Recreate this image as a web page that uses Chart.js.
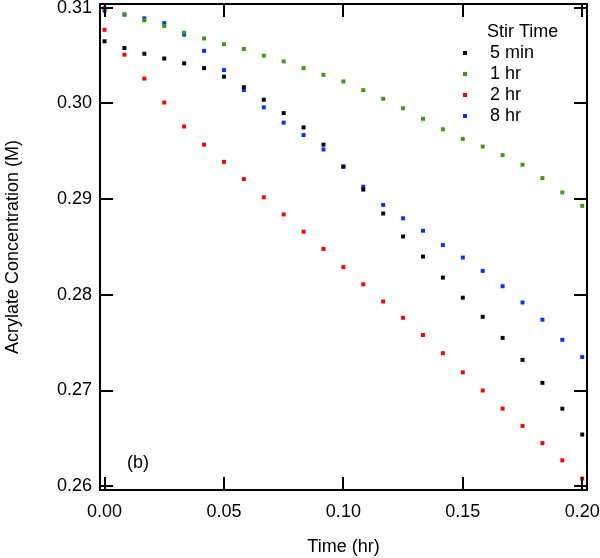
<!DOCTYPE html>
<html lang="en">
  <head>
    <meta charset="UTF-8" />
    <title>Acrylate Concentration vs Time</title>
    <style>
      html, body {
        margin: 0;
        padding: 0;
        background: #fff;
      }
      #wrap {
        width: 600px;
        height: 558px;
      }
    </style>
  </head>
  <body>
    <div id="wrap"><canvas id="chart" width="600" height="558"></canvas></div>

    <script src="https://cdn.jsdelivr.net/npm/chart.js@4.4.1/dist/chart.umd.min.js"></script>
    <script>
      // time points, hr (every 30 s)
      const timeHr = [
        0.0, 0.00833, 0.01667, 0.025, 0.03333, 0.04167, 0.05, 0.05833, 0.06667,
        0.075, 0.08333, 0.09167, 0.1, 0.10833, 0.11667, 0.125, 0.13333, 0.14167,
        0.15, 0.15833, 0.16667, 0.175, 0.18333, 0.19167, 0.2
      ];

      // acrylate concentration (M) for each stir time
      const conc5min = [
        0.3065, 0.3058, 0.3052, 0.3047, 0.3042, 0.3037, 0.3028, 0.3017, 0.3004,
        0.299, 0.2975, 0.2957, 0.2934, 0.291, 0.2885, 0.2861, 0.284, 0.2818,
        0.2797, 0.2777, 0.2755, 0.2732, 0.2708, 0.2681, 0.2654
      ];
      const conc1hr = [
        0.31, 0.3093, 0.3087, 0.3081, 0.3074, 0.3068, 0.3062, 0.3057, 0.305,
        0.3044, 0.3037, 0.303, 0.3023, 0.3014, 0.3005, 0.2995, 0.2984, 0.2973,
        0.2963, 0.2955, 0.2946, 0.2936, 0.2922, 0.2907, 0.2893
      ];
      const conc2hr = [
        0.3077, 0.3051, 0.3026, 0.3001, 0.2976, 0.2957, 0.2939, 0.2921, 0.2902,
        0.2884, 0.2866, 0.2848, 0.2829, 0.2811, 0.2793, 0.2776, 0.2758, 0.2739,
        0.2719, 0.27, 0.2681, 0.2663, 0.2645, 0.2627, 0.2608
      ];
      const conc8hr = [
        0.3097, 0.3093, 0.3089, 0.3084, 0.3072, 0.3055, 0.3035, 0.3014, 0.2996,
        0.298, 0.2967, 0.2952, 0.2934, 0.2913, 0.2894, 0.288, 0.2867, 0.2852,
        0.2839, 0.2825, 0.2809, 0.2792, 0.2774, 0.2753, 0.2735
      ];

      const seriesLabels = ['5 min', '1 hr', '2 hr', '8 hr'];
      const seriesColors = ['#000000', '#3a9a10', '#ff0000', '#0033ff'];
      const xTicks = [0.0, 0.05, 0.1, 0.15, 0.2];
      const yTicks = [0.26, 0.27, 0.28, 0.29, 0.3, 0.31];

      const FONT = 'Liberation Sans, Arial, sans-serif';

      function toPoints(ys) {
        return timeHr.map((t, i) => ({ x: t, y: ys[i] }));
      }

      const allSeries = [conc5min, conc1hr, conc2hr, conc8hr];
      const datasets = allSeries.map((ys, i) => ({
        label: seriesLabels[i],
        data: toPoints(ys),
        pointStyle: 'rect',
        pointRadius: 2.8,
        pointBorderWidth: 0,
        backgroundColor: seriesColors[i],
        borderColor: seriesColors[i],
        showLine: false
      }));

      // drop the extra room Chart.js keeps for overhanging tick labels
      function noPad(scale) {
        scale.paddingLeft = 0;
        scale.paddingRight = 0;
        scale.paddingTop = 0;
        scale.paddingBottom = 0;
      }

      // frame, inward ticks on all four sides, legend and panel label
      const framePlugin = {
        id: 'frame',
        afterDraw(chart) {
          const ctx = chart.ctx;
          const a = chart.chartArea;
          const xs = chart.scales.x;
          const ys = chart.scales.y;
          const tl = 13;
          ctx.save();
          ctx.strokeStyle = '#000';
          ctx.lineWidth = 2;
          ctx.strokeRect(a.left, a.top, a.right - a.left, a.bottom - a.top);
          ctx.beginPath();
          xTicks.forEach((v) => {
            const px = Math.round(xs.getPixelForValue(v));
            ctx.moveTo(px, a.bottom);
            ctx.lineTo(px, a.bottom - tl);
            ctx.moveTo(px, a.top);
            ctx.lineTo(px, a.top + tl);
          });
          yTicks.forEach((v) => {
            const py = Math.round(ys.getPixelForValue(v));
            ctx.moveTo(a.left, py);
            ctx.lineTo(a.left + tl, py);
            ctx.moveTo(a.right, py);
            ctx.lineTo(a.right - tl, py);
          });
          ctx.stroke();

          // legend
          ctx.fillStyle = '#000';
          ctx.font = '18px ' + FONT;
          ctx.textBaseline = 'middle';
          ctx.textAlign = 'left';
          ctx.fillText('Stir Time', 487, 32);
          chart.data.datasets.forEach((ds, i) => {
            const y = 53 + i * 21;
            ctx.fillStyle = ds.backgroundColor;
            ctx.fillRect(463, y - 2, 4, 4);
            ctx.fillStyle = '#000';
            ctx.fillText(ds.label, 490, y);
          });

          // panel label
          ctx.fillText('(b)', 127, 463);
          ctx.restore();
        }
      };

      const ctx = document.getElementById('chart').getContext('2d');
      const chart = new Chart(ctx, {
        type: 'scatter',
        data: { datasets: datasets },
        plugins: [framePlugin],
        options: {
          responsive: false,
          animation: false,
          layout: { padding: { top: 2, right: 13, left: 0, bottom: 0 } },
          plugins: {
            legend: { display: false },
            tooltip: { enabled: false }
          },
          scales: {
            x: {
              type: 'linear',
              min: -0.0019,
              max: 0.202,
              afterBuildTicks: (axis) => {
                axis.ticks = xTicks.map((v) => ({ value: v }));
              },
              afterFit: (scale) => {
                scale.height = 68;
                noPad(scale);
              },
              grid: { display: false, drawTicks: false },
              border: { display: false },
              ticks: {
                color: '#000',
                padding: 11,
                maxRotation: 0,
                font: { family: FONT, size: 18 },
                callback: (v) => Number(v).toFixed(2)
              },
              title: {
                display: true,
                text: 'Time (hr)',
                color: '#000',
                padding: 0,
                font: { family: FONT, size: 18 }
              }
            },
            y: {
              type: 'linear',
              min: 0.2596,
              max: 0.3104,
              afterBuildTicks: (axis) => {
                axis.ticks = yTicks.map((v) => ({ value: v }));
              },
              afterFit: (scale) => {
                scale.width = 100;
                noPad(scale);
              },
              grid: { display: false, drawTicks: false },
              border: { display: false },
              ticks: {
                color: '#000',
                padding: 8,
                font: { family: FONT, size: 18 },
                callback: (v) => Number(v).toFixed(2)
              },
              title: {
                display: true,
                text: 'Acrylate Concentration (M)',
                color: '#000',
                padding: 2,
                font: { family: FONT, size: 18 }
              }
            }
          }
        }
      });
    </script>
  </body>
</html>
